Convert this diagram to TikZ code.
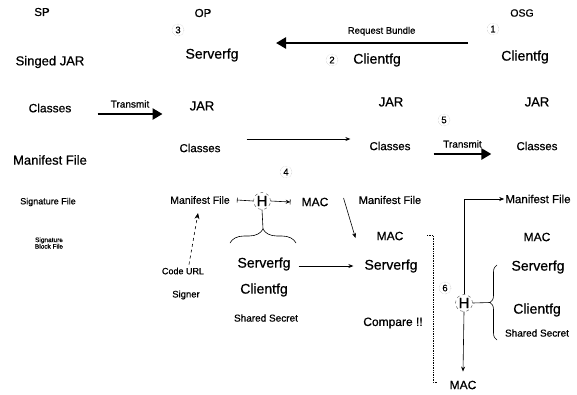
\documentclass[tikz,border=0pt]{standalone}
\usepackage{fontspec}
\setmainfont{Liberation Sans}[FakeBold=0.7]
\usetikzlibrary{arrows.meta,decorations.pathreplacing,calc}
\begin{document}
\begin{tikzpicture}[x=1pt,y=-1pt,
  lbl/.style={inner sep=1pt,font=\fontsize{#1}{#1}\selectfont},
  lbl/.default=12,
  num/.style={circle,draw=gray!60,densely dotted,inner sep=1.2pt,font=\fontsize{9.5}{9.5}\selectfont},
  hnode/.style={circle,draw=black!70,dashed,inner sep=0pt,minimum size=17pt,font=\fontsize{15}{15}\selectfont},
  thinarrow/.style={line width=0.6pt,-{Stealth[length=5pt,width=4pt]}},
  fatarrow/.style={line width=2.6pt,-{Triangle[length=10pt,width=11pt]}},
  bracedeco/.style={decorate,line width=0.6pt,decoration={brace,amplitude=#1}}
]
\useasboundingbox (0,0) rectangle (577,394);

% headers
\node[lbl=11.5] (sp) at (42,12) {SP};
\node[lbl=11.5] (op) at (203,13) {OP};
\node[lbl=10.5] (osg) at (522,13) {OSG};
\node[num] (n3) at (178,30) {3};
\node[num] (n1) at (493,29) {1};
\node[num] (n2) at (332,60) {2};

% row 1
\node[lbl=13] (sjar) at (50,62) {Singed JAR};
\node[lbl=14] (svT) at (212,55) {Serverfg};
\node[lbl=14] (cf2) at (377,60) {Clientfg};
\node[lbl=14] (cfT) at (525,57) {Clientfg};
\coordinate (rbS) at (468,43);
\coordinate (rbE) at (276,43);
\draw[fatarrow] (rbS) -- node[pos=0.45,above=5pt,lbl=9.5]{Request Bundle} (rbE);

% row 2
\node[lbl=12] (clL) at (50,108) {Classes};
\node[lbl=13] (jarOP) at (202,106) {JAR};
\node[lbl=13] (jarM) at (391,102) {JAR};
\node[lbl=13] (jarR) at (537,102) {JAR};
\node[num] (n5) at (444,120) {5};
\draw[fatarrow] ($(clL.east)+(25,6)$) -- node[midway,above=4pt,lbl=10]{Transmit} ($(jarOP.west)+(-26,8)$);

% row 3
\node[lbl=11.5] (clOP) at (200,148) {Classes};
\node[lbl=11.5] (clM) at (390,146) {Classes};
\node[lbl=11.5] (clR) at (537,146) {Classes};
\draw[thinarrow] ($(clOP.east)+(25,-9)$) -- ($(clM.west)+(-18,-7)$);
\draw[fatarrow] ($(clM.east)+(22,8)$) -- node[midway,above=4pt,lbl=10]{Transmit} ($(clR.west)+(-24,8)$);

% left column
\node[lbl=13] (mfL) at (50,160) {Manifest File};
\node[lbl=9] (sfL) at (48,202) {Signature File};
\node[lbl=6.5,align=center] (sbL) at (49,243) {Signature\\Block File};

% OP column
\node[num] (n4) at (286,172) {4};
\node[lbl=10.5] (mfOP) at (200,200) {Manifest File};
\node[hnode] (h1) at (262,201) {H};
\node[lbl=12] (macOP) at (315,202) {MAC};
\draw[line width=0.6pt,{Bar[width=5pt]}-] ($(mfOP.east)+(6,0)$) -- (h1.west);
\draw[line width=0.6pt,-{Stealth[length=4pt,width=4pt]Bar[width=5pt]}] (h1.east) -- ($(macOP.west)+(-10,0)$);
\coordinate (brLa) at (230,243);
\coordinate (brLb) at (296,243);
\draw[bracedeco=14pt] (brLa) -- (brLb);
\coordinate (tipL) at ($(brLa)!0.5!(brLb)+(0,-14)$);
\draw[line width=0.6pt] (h1.south) -- (tipL);
\node[lbl=9] (code) at (183,271) {Code URL};
\node[lbl=9.5] (signer) at (186,295) {Signer};
\draw[line width=0.6pt,dashed,-{Stealth[length=6pt,width=5pt]}] ($(code.north)+(6,-2)$) -- ($(mfOP.south)+(-2,8)$);
\node[lbl=14] (svOP) at (264,264) {Serverfg};
\node[lbl=14] (cfOP) at (264,290) {Clientfg};
\node[lbl=10] (ssOP) at (266,318) {Shared Secret};

% middle column
\node[lbl=11] (mfM) at (390,200) {Manifest File};
\node[lbl=12] (macM) at (390,236) {MAC};
\node[lbl=14] (svM) at (391,266) {Serverfg};
\node[lbl=12] (cmp) at (393,323) {Compare !!};
\draw[thinarrow] ($(macOP.east)+(14,-4)$) -- ($(macM.west)+(-20,2)$);
\draw[thinarrow] ($(svOP.east)+(7,2)$) -- ($(svM.west)+(-10,0)$);
\draw[line width=0.7pt,densely dotted] (427,235) -- (433,235) -- (433,382) -- (438,382);

% right column
\node[lbl=11.5] (mfR) at (538,199) {Manifest File};
\node[lbl=12] (macR) at (537,237) {MAC};
\node[lbl=14] (svR) at (538,267) {Serverfg};
\node[lbl=14] (cfR) at (537,310) {Clientfg};
\node[lbl=10] (ssR) at (537,333) {Shared Secret};
\node[num] (n6) at (445,288) {6};
\node[hnode] (h2) at (464,303) {H};
\node[lbl=12] (macB) at (463,385) {MAC};
\draw[thinarrow] (h2.north) |- (mfR.west);
\draw[thinarrow] (h2.south) -- ($(macB.north)+(0,-8)$);
\coordinate (brRb) at (497,340);
\coordinate (brRt) at (497,265);
\draw[bracedeco=7pt] (brRb) -- (brRt);
\coordinate (tipR) at ($(brRb)!0.5!(brRt)+(-7,0)$);
\draw[line width=0.6pt] (h2.east) -- (tipR);
\end{tikzpicture}
\end{document}
